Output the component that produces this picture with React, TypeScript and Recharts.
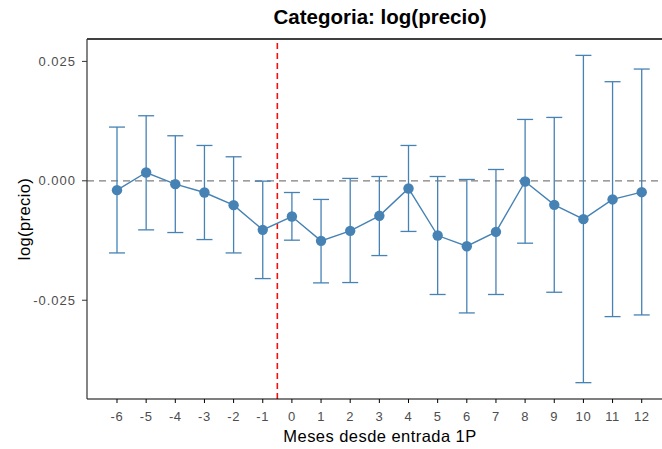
import React from "react";
import {
  ComposedChart,
  Line,
  XAxis,
  YAxis,
  ReferenceLine,
  ErrorBar,
  Label,
} from "recharts";

const months = [-6, -5, -4, -3, -2, -1, 0, 1, 2, 3, 4, 5, 6, 7, 8, 9, 10, 11, 12];
const estimates = [
  -0.00195, 0.00174, -0.0007, -0.00245, -0.0051, -0.01027, -0.00748, -0.01257, -0.01048,
  -0.00733, -0.0016, -0.01146, -0.01369, -0.01069, -0.00014, -0.00503, -0.00803, -0.0039,
  -0.00238,
];
const upperCI = [
  0.01125, 0.01362, 0.00943, 0.0074, 0.00503, -0.00007, -0.00245, -0.0039, 0.0005, 0.0009,
  0.0074, 0.0009, 0.00028, 0.00237, 0.01285, 0.01327, 0.02626, 0.02075, 0.0234,
];
const lowerCI = [
  -0.0151, -0.01027, -0.01083, -0.0123, -0.0151, -0.02047, -0.01243, -0.02137, -0.0213,
  -0.01565, -0.0106, -0.0238, -0.02766, -0.0238, -0.01306, -0.02333, -0.04226, -0.02843,
  -0.02808,
];
const yTicks = [-0.025, 0, 0.025];
const xTicks = months;

const Y_MIN = -0.04568;
const Y_MAX = 0.02969;

const data = months.map((m, i) => ({
  x: m,
  y: estimates[i],
  err: [estimates[i] - lowerCI[i], upperCI[i] - estimates[i]],
}));

const BLUE = "#4682B4";
const FONT = "'Liberation Sans', Arial, sans-serif";

export default function App() {
  return (
    <div style={{ position: "absolute", left: 0, top: 0, width: 662, height: 449, background: "#fff" }}>
      <div
        style={{
          position: "absolute",
          left: 0,
          width: 760,
          top: 5,
          textAlign: "center",
          fontFamily: FONT,
          fontWeight: "bold",
          fontSize: 20.5,
          color: "#000",
        }}
      >
        Categoria: log(precio)
      </div>
      <ComposedChart
        width={662}
        height={449}
        data={data}
        margin={{ top: 39, right: 0, bottom: 0, left: 0 }}
      >
        <XAxis
          type="number"
          dataKey="x"
          domain={[-7.029, 12.696]}
          allowDataOverflow
          ticks={xTicks}
          interval={0}
          tickSize={4}
          tickMargin={9}
          tick={{ fill: "#4d4d4d", fontSize: 13, fontFamily: FONT, letterSpacing: 0.6 }}
          tickLine={{ stroke: "#000", strokeWidth: 1 }}
          axisLine={{ stroke: "#000", strokeWidth: 1.2 }}
          height={50}
        >
          <Label
            value="Meses desde entrada 1P"
            position="insideBottom"
            offset={7}
            dx={5.5}
            style={{ fill: "#000", fontSize: 16.5, fontFamily: FONT, letterSpacing: 0.45 }}
          />
        </XAxis>
        <YAxis
          type="number"
          domain={[Y_MIN, Y_MAX]}
          allowDataOverflow
          ticks={yTicks}
          tickFormatter={(v: number) => v.toFixed(3)}
          width={87}
          tickSize={5}
          tickMargin={6}
          tick={{ fill: "#4d4d4d", fontSize: 13, fontFamily: FONT, letterSpacing: 1 }}
          tickLine={{ stroke: "#333", strokeWidth: 1 }}
          axisLine={{ stroke: "#333", strokeWidth: 1.2 }}
        >
          <Label
            value="log(precio)"
            angle={-90}
            position="insideLeft"
            offset={24}
            style={{ fill: "#000", fontSize: 16.5, fontFamily: FONT, textAnchor: "middle", letterSpacing: 0.4 }}
          />
        </YAxis>
        <ReferenceLine y={Y_MAX} stroke="#000" strokeWidth={1.4} />
        <ReferenceLine y={0} stroke="#7f7f7f" strokeWidth={1.3} strokeDasharray="7 5" />
        <ReferenceLine x={-0.5} stroke="#ee1111" strokeWidth={1.6} strokeDasharray="6 4" />
        <Line
          dataKey="y"
          stroke={BLUE}
          strokeWidth={1.4}
          dot={{ r: 5.2, fill: BLUE, stroke: BLUE, strokeWidth: 0 }}
          activeDot={false}
          isAnimationActive={false}
        >
          <ErrorBar dataKey="err" width={8} stroke={BLUE} strokeWidth={1.3} direction="y" />
        </Line>
      </ComposedChart>
    </div>
  );
}
